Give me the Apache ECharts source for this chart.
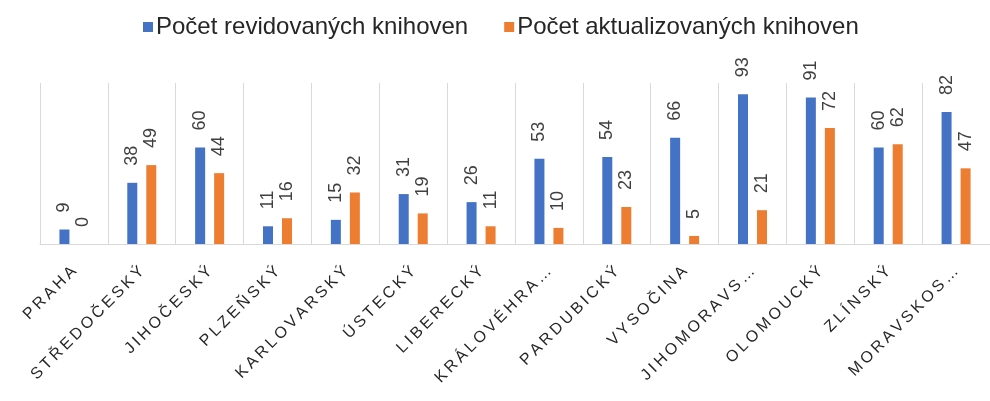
<!DOCTYPE html>
<html>
<head>
<meta charset="utf-8">
<script src="https://cdn.jsdelivr.net/npm/echarts@6/dist/echarts.min.js"></script>
<style>
    html, body { margin: 0; padding: 0; background: #fff; }
    #chart { width: 990px; height: 401px; }
</style>
</head>
<body>
<div id="chart"></div>
<script>
// Kraje (zkrácené popisky jako v originále)
const regions = ["PRAHA", "STŘEDOČESKÝ", "JIHOČESKÝ", "PLZEŇSKÝ", "KARLOVARSKÝ", "ÚSTECKÝ", "LIBERECKÝ",
    "KRÁLOVÉHRA…", "PARDUBICKÝ", "VYSOČINA", "JIHOMORAVS…", "OLOMOUCKÝ", "ZLÍNSKÝ", "MORAVSKOS…"];
const revidovane = [9, 38, 60, 11, 15, 31, 26, 53, 54, 66, 93, 91, 60, 82];
const aktualizovane = [0, 49, 44, 16, 32, 19, 11, 10, 23, 5, 21, 72, 62, 47];
const seriesNames = ["Počet revidovaných knihoven", "Počet aktualizovaných knihoven"];

const FONT = "Liberation Sans, Arial, sans-serif";

// popisek hodnoty nad sloupcem, otočený o 90°
const valueLabel = {
    show: true,
    position: "top",
    distance: 17,
    rotate: 90,
    align: "left",
    verticalAlign: "middle",
    fontSize: 18,
    fontFamily: FONT,
    color: "#404040"
};

const chart = echarts.init(document.getElementById("chart"));
chart.setOption({
    animation: false,
    legend: {
        left: 138,
        top: 10,
        itemWidth: 10,
        itemHeight: 10,
        itemGap: 36,
        icon: "rect",
        textStyle: { fontSize: 24, fontFamily: FONT, color: "#262626", padding: [0, 0, 0, -2] },
        data: seriesNames
    },
    grid: { left: 40, right: -14, top: 83, bottom: 157 },
    xAxis: {
        type: "category",
        data: regions,
        axisLine: { lineStyle: { color: "#d9d9d9", width: 1 } },
        axisTick: { show: false },
        splitLine: { show: true, lineStyle: { color: "#d9d9d9", width: 1 } },
        axisLabel: {
            rotate: 45,
            interval: 0,
            margin: 25,
            fontSize: 16,
            fontFamily: FONT,
            color: "#262626",
            // mezery mezi písmeny jako v originále
            formatter: v => v.split("").join("\u2009")
        }
    },
    yAxis: {
        type: "value",
        min: 0,
        max: 100,
        show: false,
        splitLine: { show: false }
    },
    series: [
        {
            name: seriesNames[0],
            type: "bar",
            data: revidovane,
            barWidth: 10,
            barGap: "90%",
            itemStyle: { color: "#4472C4" },
            label: valueLabel
        },
        {
            name: seriesNames[1],
            type: "bar",
            data: aktualizovane,
            barWidth: 10,
            itemStyle: { color: "#ED7D31" },
            label: valueLabel
        }
    ]
});
</script>
</body>
</html>
